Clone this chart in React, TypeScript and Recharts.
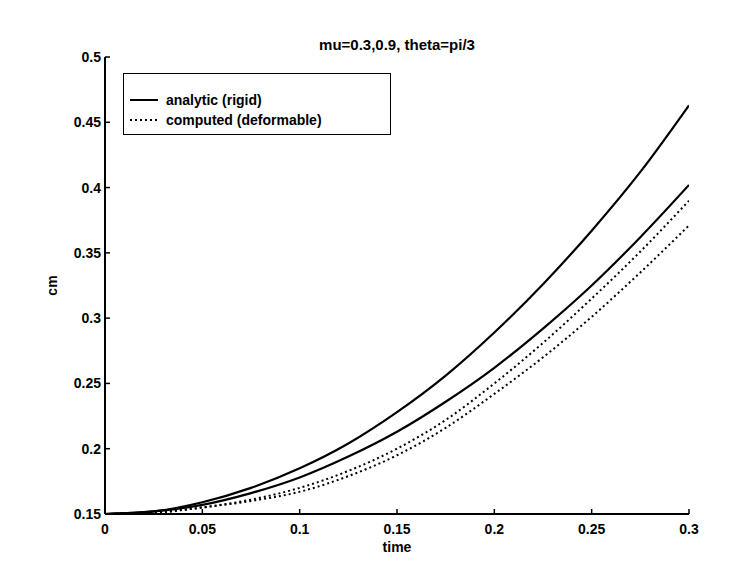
import React from 'react';
import {
  LineChart,
  Line,
  XAxis,
  YAxis,
  Legend,
  Label,
} from 'recharts';

// time samples (s) and displacement readings (cm)
const TIME = [0, 0.025, 0.05, 0.075, 0.1, 0.125, 0.15, 0.175, 0.2, 0.225, 0.25, 0.275, 0.3];
const RIGID_MU03 = [0.15, 0.152, 0.159, 0.17, 0.185, 0.204, 0.228, 0.256, 0.289, 0.326, 0.367, 0.412, 0.463];
const RIGID_MU09 = [0.15, 0.152, 0.157, 0.166, 0.178, 0.194, 0.213, 0.236, 0.262, 0.292, 0.325, 0.362, 0.402];
const DEFORM_MU03 = [0.15, 0.151, 0.155, 0.161, 0.17, 0.183, 0.2, 0.222, 0.25, 0.281, 0.315, 0.351, 0.39];
const DEFORM_MU09 = [0.15, 0.151, 0.155, 0.16, 0.167, 0.179, 0.195, 0.216, 0.242, 0.27, 0.301, 0.335, 0.371];

const X_TICKS = [0, 0.05, 0.1, 0.15, 0.2, 0.25, 0.3];
const Y_TICKS = [0.15, 0.2, 0.25, 0.3, 0.35, 0.4, 0.45, 0.5];

const TITLE = 'mu=0.3,0.9, theta=pi/3';
const LEGEND_ITEMS = [
  { label: 'analytic (rigid)', dash: undefined },
  { label: 'computed (deformable)', dash: '2 3' },
];

const FONT = '"Liberation Sans", Arial, sans-serif';
const tickStyle = { fontFamily: FONT, fontSize: 14, fontWeight: 700, fill: '#000' };

const chartData = TIME.map((t, i) => ({
  t,
  rigid03: RIGID_MU03[i],
  rigid09: RIGID_MU09[i],
  deform03: DEFORM_MU03[i],
  deform09: DEFORM_MU09[i],
}));

function renderLegend() {
  return (
    <div
      style={{
        border: '1.5px solid #000',
        background: '#fff',
        width: 268,
        height: 62,
        boxSizing: 'border-box',
        paddingTop: 16,
        fontFamily: FONT,
        fontSize: 14,
        fontWeight: 700,
      }}
    >
      {LEGEND_ITEMS.map((item) => (
        <div key={item.label} style={{ display: 'flex', alignItems: 'center', height: 20 }}>
          <svg width={42} height={20}>
            <line
              x1={6}
              x2={34}
              y1={10}
              y2={10}
              stroke="#000"
              strokeWidth={2}
              strokeDasharray={item.dash}
            />
          </svg>
          <span>{item.label}</span>
        </div>
      ))}
    </div>
  );
}

function YLabel(props: any) {
  const vb = props.viewBox;
  const cy = vb.y + vb.height / 2;
  return (
    <text
      x={52}
      y={cy}
      transform={`rotate(-90 52 ${cy})`}
      textAnchor="middle"
      dominantBaseline="central"
      style={tickStyle}
    >
      cm
    </text>
  );
}

export default function App() {
  return (
    <div style={{ position: 'absolute', left: 0, top: 0, width: 731, height: 573, background: '#fff' }}>
      {/* title, centred over the plot area */}
      <div
        style={{
          position: 'absolute',
          left: 0,
          top: 36,
          width: 794,
          textAlign: 'center',
          fontFamily: FONT,
          fontSize: 15,
          fontWeight: 700,
          lineHeight: '17px',
          zIndex: 2,
        }}
      >
        {TITLE}
      </div>
      <LineChart
        width={731}
        height={573}
        data={chartData}
        margin={{ top: 57, right: 42, bottom: 0, left: 0 }}
      >
        <XAxis
          dataKey="t"
          type="number"
          domain={[0, 0.3]}
          ticks={X_TICKS}
          allowDataOverflow
          height={59}
          tickSize={-5}
          tickMargin={15}
          tick={tickStyle}
          axisLine={{ stroke: '#000', strokeWidth: 2 }}
          tickLine={{ stroke: '#000', strokeWidth: 1.5 }}
        >
          <Label value="time" position="insideBottom" offset={21} style={tickStyle} />
        </XAxis>
        <XAxis
          xAxisId="top"
          orientation="top"
          dataKey="t"
          type="number"
          domain={[0, 0.3]}
          ticks={X_TICKS}
          allowDataOverflow
          height={0}
          tickSize={-5}
          tick={false}
          axisLine={{ stroke: '#000', strokeWidth: 2 }}
          tickLine={{ stroke: '#000', strokeWidth: 1.5 }}
        />
        <YAxis
          type="number"
          domain={[0.15, 0.5]}
          ticks={Y_TICKS}
          allowDataOverflow
          width={105}
          tickSize={-5}
          tickMargin={9}
          tick={tickStyle}
          axisLine={{ stroke: '#000', strokeWidth: 2 }}
          tickLine={{ stroke: '#000', strokeWidth: 1.5 }}
        >
          <Label content={YLabel} />
        </YAxis>
        <YAxis
          yAxisId="right"
          orientation="right"
          type="number"
          domain={[0.15, 0.5]}
          ticks={Y_TICKS}
          allowDataOverflow
          width={0}
          tickSize={-5}
          tick={false}
          axisLine={{ stroke: '#000', strokeWidth: 2 }}
          tickLine={{ stroke: '#000', strokeWidth: 1.5 }}
        />
        <Legend
          layout="horizontal"
          verticalAlign="middle"
          align="center"
          content={renderLegend}
          wrapperStyle={{ position: 'absolute', left: 123, top: 73, width: 270, height: 64 }}
        />
        <Line type="monotone" dataKey="rigid03" stroke="#000" strokeWidth={2.2} dot={false} isAnimationActive={false} />
        <Line type="monotone" dataKey="rigid09" stroke="#000" strokeWidth={2.2} dot={false} isAnimationActive={false} />
        <Line type="monotone" dataKey="deform03" stroke="#000" strokeWidth={2} strokeDasharray="2 3" dot={false} isAnimationActive={false} />
        <Line type="monotone" dataKey="deform09" stroke="#000" strokeWidth={2} strokeDasharray="2 3" dot={false} isAnimationActive={false} />
      </LineChart>
    </div>
  );
}
